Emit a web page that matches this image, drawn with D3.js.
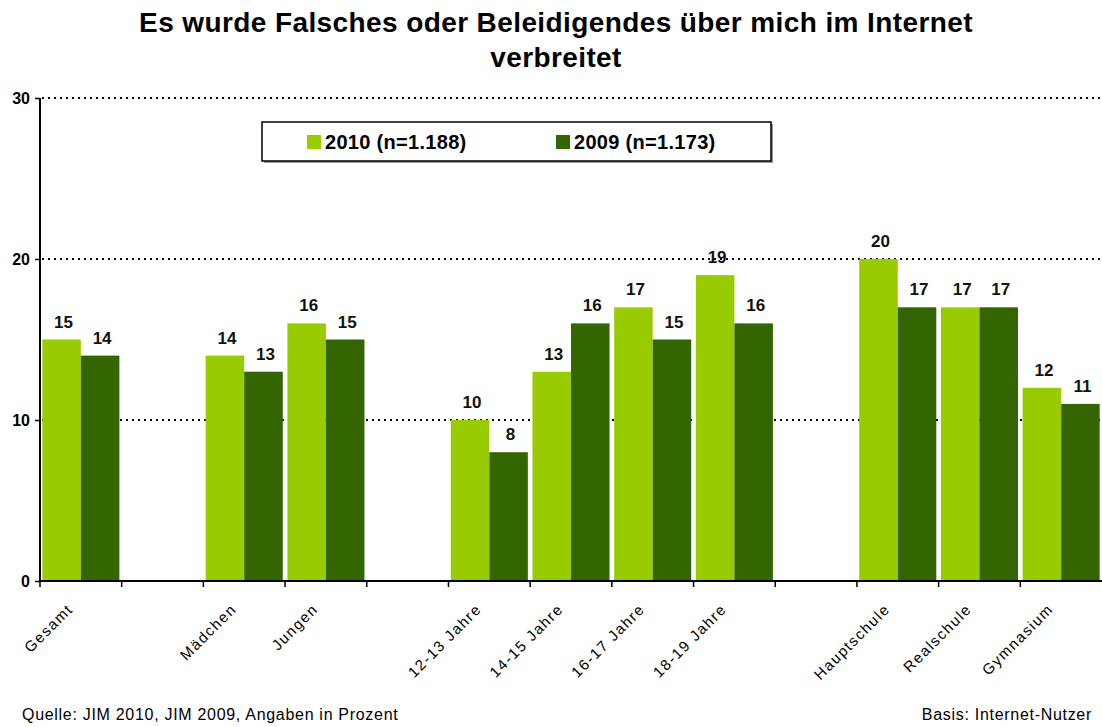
<!DOCTYPE html>
<html><head><meta charset="utf-8">
<script src="https://cdn.jsdelivr.net/npm/d3@7"></script>
<style>body{margin:0;background:#fff}svg{display:block;font-family:"Liberation Sans",Arial,sans-serif}</style>
</head><body><svg id="c" width="1102" height="727"></svg>
<script>
const categories = ["Gesamt","gap1","Mädchen","Jungen","gap2","12-13 Jahre","14-15 Jahre","16-17 Jahre","18-19 Jahre","gap3","Hauptschule","Realschule","Gymnasium"];
const values2010 = [15,null,14,16,null,10,13,17,19,null,20,17,12];
const values2009 = [14,null,13,15,null,8,16,15,16,null,17,17,11];
const seriesNames = ["2010 (n=1.188)","2009 (n=1.173)"];
const colors = ["#99cc00","#336600"];
const yTicks = [0,10,20,30];
const title = ["Es wurde Falsches oder Beleidigendes über mich im Internet","verbreitet"];

const svg = d3.select("#c");
const x = d3.scaleBand().domain(categories).range([40,1102]).paddingInner(0).paddingOuter(0);
const y = d3.scaleLinear().domain([0,30]).range([581,98]);
const inner = d3.scaleBand().domain([0,1]).range([0,x.bandwidth()]).paddingOuter(0.06).paddingInner(0);

// title
svg.append("g").selectAll("text").data(title).join("text")
  .attr("x",556).attr("y",(d,i)=>32+i*35).attr("text-anchor","middle")
  .attr("font-size",28).attr("font-weight","bold").attr("letter-spacing",0.4).attr("fill","#000").text(d=>d);

// gridlines
svg.append("g").selectAll("line").data(yTicks.filter(d=>d>0)).join("line")
  .attr("x1",42).attr("x2",1100).attr("y1",d=>y(d)).attr("y2",d=>y(d))
  .attr("stroke","#000").attr("stroke-width",2).attr("stroke-dasharray","2,4");

// bars
const series = [values2010, values2009];
series.forEach((vals,si)=>{
  const data = categories.map((c,i)=>({c,v:vals[i]})).filter(d=>d.v!=null);
  svg.append("g").selectAll("rect").data(data).join("rect")
    .attr("x",d=>x(d.c)+inner(si)).attr("width",inner.bandwidth())
    .attr("y",d=>y(d.v)).attr("height",d=>y(0)-y(d.v))
    .attr("fill",colors[si]);
  svg.append("g").selectAll("text").data(data).join("text")
    .attr("x",d=>x(d.c)+inner(si)+inner.bandwidth()/2+2).attr("y",d=>y(d.v)-12)
    .attr("text-anchor","middle").attr("font-size",17).attr("font-weight","bold").attr("fill","#111")
    .text(d=>d.v);
});

// y axis
const yAxis = svg.append("g").attr("transform","translate(40,0)")
  .call(d3.axisLeft(y).tickValues(yTicks).tickSize(5).tickPadding(5));
yAxis.select(".domain").attr("stroke","#000").attr("stroke-width",2).attr("d","M0,98V582");
yAxis.selectAll(".tick line").attr("stroke","#000").attr("stroke-width",1.5);
yAxis.selectAll(".tick text").attr("font-size",16).attr("font-weight","bold").attr("fill","#000")
  .attr("font-family","Liberation Sans, Arial, sans-serif");

// x axis
const xAxis = svg.append("g").attr("transform","translate(0,581)")
  .call(d3.axisBottom(x).tickSize(0).tickFormat(d=>d.startsWith("gap")?"":d));
xAxis.select(".domain").attr("stroke","#000").attr("stroke-width",2).attr("d","M40,0H1102");
xAxis.selectAll(".tick text")
  .attr("font-size",15).attr("letter-spacing",1.5).attr("fill","#000").attr("font-family","Liberation Sans, Arial, sans-serif")
  .attr("text-anchor","end").attr("dy",0)
  .attr("transform","translate(-9,27) rotate(-45)");
// boundary ticks
svg.append("g").selectAll("line").data(categories).join("line")
  .attr("x1",d=>x(d)).attr("x2",d=>x(d)).attr("y1",581).attr("y2",587)
  .attr("stroke","#000").attr("stroke-width",1.5);

// legend
const lg = svg.append("g");
lg.append("rect").attr("x",264).attr("y",124).attr("width",509).attr("height",39).attr("fill","#999");
lg.append("rect").attr("x",262).attr("y",122).attr("width",509).attr("height",39).attr("fill","#fff").attr("stroke","#000").attr("stroke-width",1.5);
const lx = [307,556];
seriesNames.forEach((n,i)=>{
  lg.append("rect").attr("x",lx[i]).attr("y",135).attr("width",14).attr("height",14).attr("fill",colors[i]);
  lg.append("text").attr("x",lx[i]+18).attr("y",149).attr("font-size",20).attr("font-weight","bold").attr("letter-spacing",0.3).attr("fill","#000").text(n);
});

// footer
svg.append("text").attr("x",22).attr("y",720).attr("font-size",16).attr("letter-spacing",0.7).attr("fill","#000").text("Quelle: JIM 2010, JIM 2009, Angaben in Prozent");
svg.append("text").attr("x",1092).attr("y",720).attr("text-anchor","end").attr("font-size",16).attr("letter-spacing",0.7).attr("fill","#000").text("Basis: Internet-Nutzer");
</script></body></html>
